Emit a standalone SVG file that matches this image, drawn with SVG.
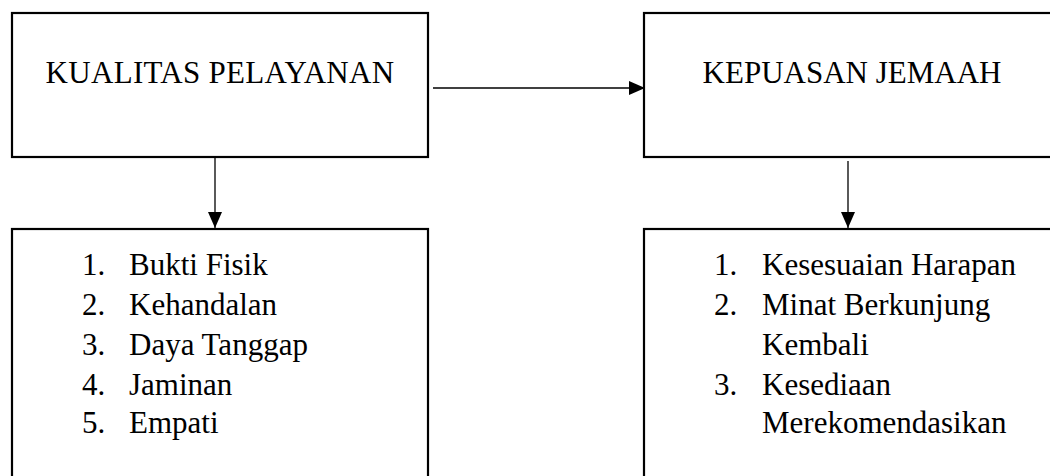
<svg xmlns="http://www.w3.org/2000/svg" width="1050" height="476" viewBox="0 0 1050 476">
<style>
.box{fill:#fff;stroke:#000;stroke-width:2.2}
.t{font-family:"Liberation Serif","Times New Roman",serif;font-size:31px;fill:#000}
.c{stroke:#000;stroke-width:1.3;fill:none}
</style>
<defs>
<marker id="ah" viewBox="0 0 16 14" refX="16" refY="7" markerWidth="16" markerHeight="14" markerUnits="userSpaceOnUse" orient="auto">
<path d="M0,0 L16,7 L0,14 Z" fill="#000"/>
</marker>
</defs>
<rect width="1050" height="476" fill="#fff"/>
<g id="kualitas">
<rect class="box" x="12" y="13" width="416" height="144"/>
<text class="t" x="220" y="83" text-anchor="middle" letter-spacing="0.3">KUALITAS PELAYANAN</text>
</g>
<g id="kepuasan">
<rect class="box" x="644" y="13" width="430" height="144"/>
<text class="t" x="852" y="83" text-anchor="middle">KEPUASAN JEMAAH</text>
</g>
<g id="dimensi-kualitas">
<rect class="box" x="12" y="229" width="416" height="260"/>
<text class="t" x="82" y="275">1.</text><text class="t" x="129" y="275">Bukti Fisik</text>
<text class="t" x="82" y="315">2.</text><text class="t" x="129" y="315">Kehandalan</text>
<text class="t" x="82" y="355">3.</text><text class="t" x="129" y="355">Daya Tanggap</text>
<text class="t" x="82" y="395">4.</text><text class="t" x="129" y="395">Jaminan</text>
<text class="t" x="82" y="433">5.</text><text class="t" x="129" y="433">Empati</text>
</g>
<g id="dimensi-kepuasan">
<rect class="box" x="644" y="229" width="430" height="260"/>
<text class="t" x="714" y="275">1.</text><text class="t" x="762" y="275">Kesesuaian Harapan</text>
<text class="t" x="714" y="315">2.</text><text class="t" x="762" y="315">Minat Berkunjung</text>
<text class="t" x="762" y="355">Kembali</text>
<text class="t" x="714" y="395">3.</text><text class="t" x="762" y="395">Kesediaan</text>
<text class="t" x="762" y="433">Merekomendasikan</text>
</g>
<g id="connectors">
<line class="c" x1="433" y1="88" x2="645" y2="88" marker-end="url(#ah)"/>
<line class="c" x1="215" y1="158" x2="215" y2="228" marker-end="url(#ah)"/>
<line class="c" x1="848" y1="161" x2="848" y2="228" marker-end="url(#ah)"/>
</g>
</svg>
